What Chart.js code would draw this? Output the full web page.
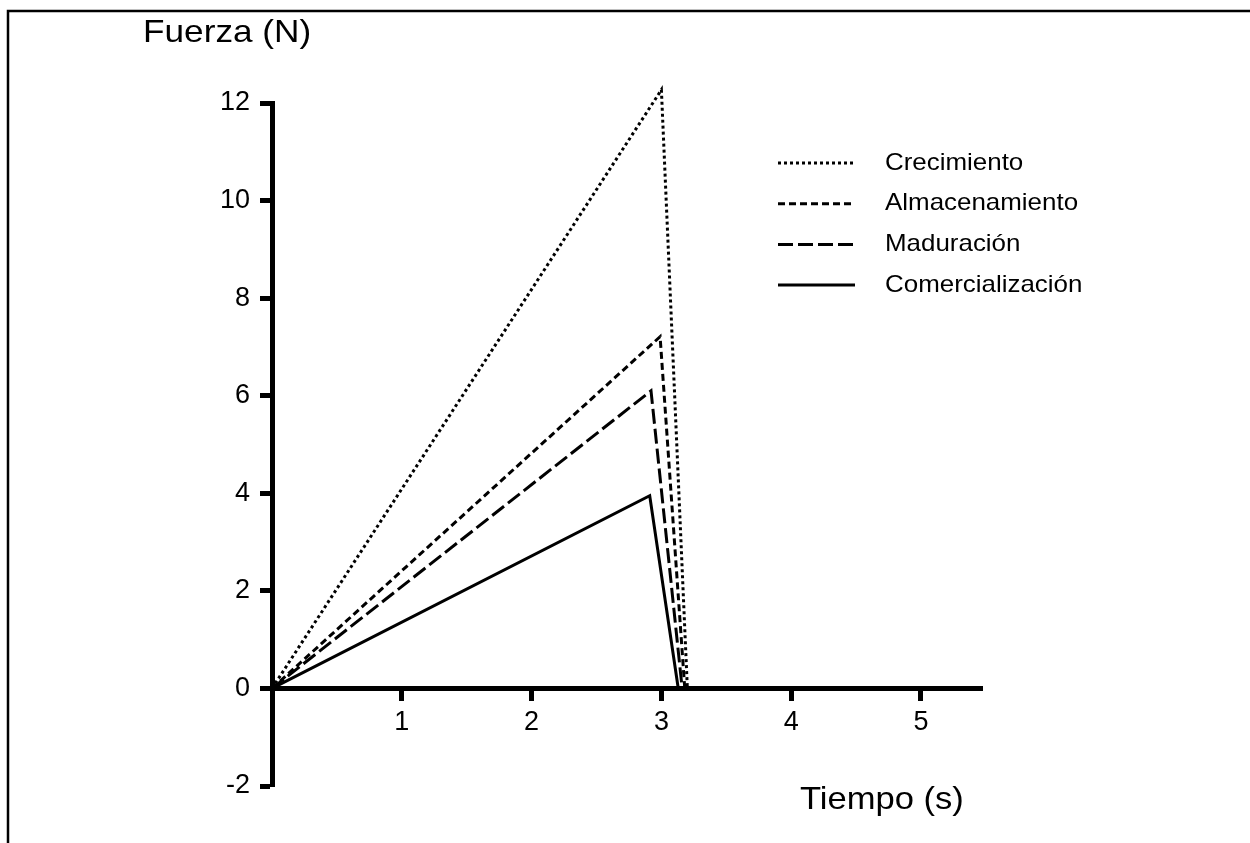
<!DOCTYPE html>
<html>
<head>
<meta charset="utf-8">
<script src="https://cdn.jsdelivr.net/npm/chart.js"></script>
<style>
  body { margin: 0; background: #fff; }
  #wrap { width: 1250px; height: 843px; position: relative; }
</style>
</head>
<body>
<div id="wrap"><canvas id="fuerzaChart"></canvas></div>
<script>
// datos
let series = ['Crecimiento', 'Almacenamiento', 'Maduración', 'Comercialización'];
let crecimientoT = [0, 3.0, 3.2];
let crecimientoF = [0, 12.27, 0];
let almacenamientoT = [0, 2.99, 3.18];
let almacenamientoF = [0, 7.21, 0];
let maduracionT = [0, 2.92, 3.16];
let maduracionF = [0, 6.1, 0];
let comercializacionT = [0, 2.91, 3.13];
let comercializacionF = [0, 3.95, 0];
let xTicks = [1, 2, 3, 4, 5];
let yTicks = [-2, 0, 2, 4, 6, 8, 10, 12];

let dashes = [[3, 3], [7, 4], [15, 5], []];

function puntos(t, f){
  return t.map((v, i) => ({x: v, y: f[i]}));
}
let valores = [
  puntos(crecimientoT, crecimientoF),
  puntos(almacenamientoT, almacenamientoF),
  puntos(maduracionT, maduracionF),
  puntos(comercializacionT, comercializacionF)
];

let fuente = "'Liberation Sans', Arial, sans-serif";

// texto un poco ensanchado como en la figura original
function texto(ctx, s, x, y, escala){
  ctx.save();
  ctx.translate(x, y);
  ctx.scale(escala, 1);
  ctx.fillText(s, 0, 0);
  ctx.restore();
}

// leyenda, titulos de ejes y marco dibujados a mano
let extras = {
  id: 'extras',
  afterDraw(chart){
    let ctx = chart.ctx;
    ctx.save();
    ctx.strokeStyle = '#000';
    ctx.lineWidth = 2.5;
    ctx.beginPath();
    ctx.moveTo(8, 843);
    ctx.lineTo(8, 11);
    ctx.lineTo(1250, 11);
    ctx.stroke();

    ctx.fillStyle = '#000';
    ctx.font = '32px ' + fuente;
    ctx.textBaseline = 'middle';
    ctx.textAlign = 'left';
    texto(ctx, 'Fuerza (N)', 143, 33, 1.1);
    texto(ctx, 'Tiempo (s)', 800, 800, 1.08);

    ctx.font = '24px ' + fuente;
    chart.data.datasets.forEach((ds, i) => {
      let y = 163 + i * 40.7;
      ctx.lineWidth = 3;
      ctx.setLineDash(ds.borderDash);
      ctx.beginPath();
      ctx.moveTo(778, y);
      ctx.lineTo(855, y);
      ctx.stroke();
      ctx.setLineDash([]);
      texto(ctx, ds.label, 885, y, 1.08);
    });
    ctx.restore();
  }
};

let ctxFuerza = document.getElementById('fuerzaChart').getContext('2d');
let fuerzaChart = new Chart(ctxFuerza, {
  type: 'scatter',
  data: {
    datasets: series.map((nombre, i) => ({
      label: nombre,
      data: valores[i],
      showLine: true,
      clip: false,
      borderColor: '#000',
      backgroundColor: '#000',
      borderWidth: 3,
      borderDash: dashes[i],
      pointRadius: 0,
      tension: 0
    }))
  },
  options: {
    responsive: true,
    maintainAspectRatio: false,
    animation: false,
    layout: { padding: { left: 192, right: 268, top: 103, bottom: 57 } },
    plugins: { legend: { display: false }, tooltip: { enabled: false } },
    scales: {
      x: {
        type: 'linear',
        min: 0,
        max: 5.47,
        position: { y: 0 },
        afterBuildTicks: s => { s.ticks = xTicks.map(v => ({value: v})); },
        grid: { drawOnChartArea: false, tickLength: 10, tickWidth: 5, tickColor: '#000' },
        border: { color: '#000', width: 5 },
        ticks: { color: '#000', padding: 8, font: { family: fuente, size: 27 } }
      },
      y: {
        type: 'linear',
        min: -2,
        max: 12,
        position: 'left',
        afterBuildTicks: s => { s.ticks = yTicks.map(v => ({value: v})); },
        afterFit: s => { s.width = 80; },
        grid: { drawOnChartArea: false, tickLength: 12, tickWidth: 5, tickColor: '#000' },
        border: { color: '#000', width: 5 },
        ticks: { color: '#000', padding: 10, font: { family: fuente, size: 27 } }
      }
    }
  },
  plugins: [extras]
});
</script>
</body>
</html>
